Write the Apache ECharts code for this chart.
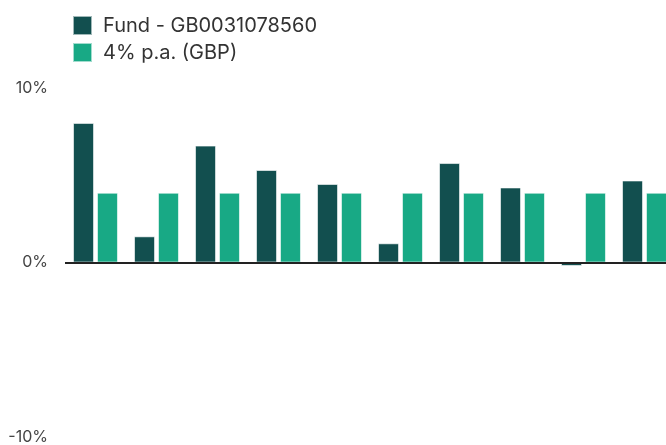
<!DOCTYPE html>
<html>
<head>
<meta charset="utf-8">
<script src="https://cdn.jsdelivr.net/npm/echarts@6/dist/echarts.min.js"></script>
<style>
html,body{margin:0;padding:0;background:#fff;overflow:hidden;width:666px;height:445px;}
#chart{width:675px;height:445px;}
</style>
</head>
<body>
<div id="chart"></div>
<script>
const categories = ['1','2','3','4','5','6','7','8','9','10'];
const fundName = 'Fund - GB0031078560';
const benchName = '4% p.a. (GBP)';
const fundValues = [8.0, 1.5, 6.7, 5.3, 4.5, 1.1, 5.7, 4.3, -0.2, 4.7];
const benchValues = [4, 4, 4, 4, 4, 4, 4, 4, 4, 4];
const yTicks = [-10, 0, 10];

const chart = echarts.init(document.getElementById('chart'));
chart.setOption({
  animation: false,
  textStyle: { fontFamily: 'Inter, "Noto Sans", sans-serif' },
  legend: {
    orient: 'vertical',
    left: 67,
    top: 10,
    itemWidth: 19,
    itemHeight: 19,
    itemGap: 6,
    icon: 'rect',
    textStyle: { fontSize: 20, color: '#333', padding: [0, 0, 0, 6] },
    data: [fundName, benchName]
  },
  grid: { left: 65, right: 0, top: 88, bottom: 7, containLabel: false },
  xAxis: {
    type: 'category',
    data: categories,
    axisLine: { show: false },
    axisTick: { show: false },
    axisLabel: { show: false }
  },
  yAxis: {
    type: 'value',
    min: yTicks[0],
    max: yTicks[yTicks.length - 1],
    interval: 10,
    splitLine: { show: false },
    axisLine: { show: false },
    axisTick: { show: false },
    axisLabel: {
      formatter: v => v + '%',
      fontSize: 16,
      color: '#444',
      margin: 17
    }
  },
  series: [
    {
      name: fundName,
      type: 'bar',
      data: fundValues,
      barWidth: 21,
      barGap: '14%',
      itemStyle: { color: '#124f4f', borderColor: 'rgba(255,255,255,0.6)', borderWidth: 1 },
      markLine: {
        silent: true,
        symbol: 'none',
        label: { show: false },
        lineStyle: { color: '#222', width: 2, type: 'solid' },
        data: [{ yAxis: 0 }]
      }
    },
    {
      name: benchName,
      type: 'bar',
      data: benchValues,
      barWidth: 21,
      itemStyle: { color: '#18a985', borderColor: 'rgba(255,255,255,0.6)', borderWidth: 1 }
    }
  ]
});
</script>
</body>
</html>
